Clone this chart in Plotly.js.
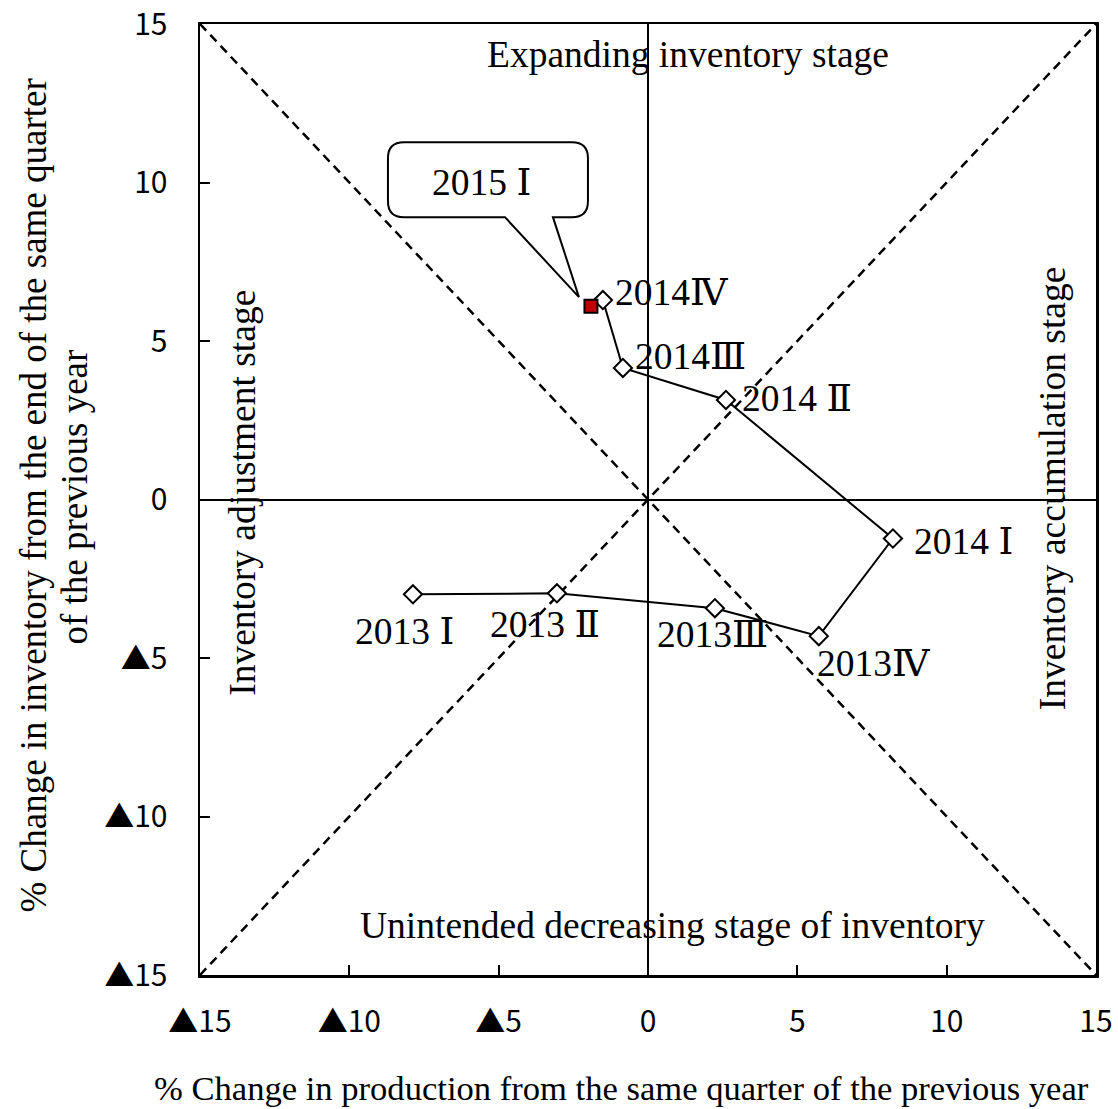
<!DOCTYPE html>
<html>
<head>
<meta charset="utf-8">
<script src="https://cdn.plot.ly/plotly-3.0.1.min.js"></script>
<style>html,body{margin:0;padding:0;background:#fff;}#chart{width:1118px;height:1109px;}</style>
</head>
<body>
<div id="chart"></div>
<script>
// ---- data ----
const quarters   = ["2013 Ⅰ", "2013 Ⅱ", "2013Ⅲ", "2013Ⅳ", "2014 Ⅰ", "2014 Ⅱ", "2014Ⅲ", "2014Ⅳ"];
const production = [-7.87, -3.05, 2.24, 5.72, 8.20, 2.61, -0.84, -1.51];
const inventory  = [-2.99, -2.96, -3.43, -4.31, -1.23, 3.14, 4.15, 6.29];

const latestLabel = "2015 Ⅰ";
const latestProduction = [-1.91];
const latestInventory  = [6.10];

const tickVals = [-15, -10, -5, 0, 5, 10, 15];
const tickText = ["▲15", "▲10", "▲5", "0", "5", "10", "15"];

const stageTop    = "Expanding inventory stage";
const stageBottom = "Unintended decreasing stage of inventory";
const stageLeft   = "Inventory adjustment stage";
const stageRight  = "Inventory accumulation stage";

const xTitle = "% Change in production from the same quarter of the previous year";
const yTitle1 = "% Change in inventory from the end of the same quarter";
const yTitle2 = "of the previous year";

// ---- label placement (pixels, styling only) ----
const labelAnchor = ["center", "center", "center", "left", "left", "left", "left", "left"];
const labelDX = [-8, -12, -2, -4, 19, 14, 10, 10];
const labelDY = [-37, -31, -26, -27, -3, 1, 11, 8];

const serif = "'Liberation Serif', 'DejaVu Serif', 'Times New Roman', 'Noto Sans CJK JP', serif";
const sans = "'Noto Sans CJK JP', 'Liberation Sans', Arial, sans-serif";
const serifSize = 37.5;

const traces = [
  {
    x: production, y: inventory, type: "scatter", mode: "lines+markers",
    line: {color: "#000", width: 2},
    marker: {symbol: "diamond", size: 14, color: "#fff", line: {color: "#000", width: 2}},
    hoverinfo: "skip", showlegend: false, cliponaxis: false
  },
  {
    x: latestProduction, y: latestInventory, type: "scatter", mode: "markers",
    marker: {symbol: "square", size: 13, color: "#C00000", line: {color: "#000", width: 2}},
    hoverinfo: "skip", showlegend: false
  }
];

const annotations = quarters.map((q, i) => ({
  x: production[i], y: inventory[i], xref: "x", yref: "y",
  text: q, showarrow: false, xanchor: labelAnchor[i], yanchor: "middle",
  xshift: labelDX[i], yshift: labelDY[i],
  font: {family: serif, size: serifSize, color: "#000"}
}));

// callout text
annotations.push({
  x: latestProduction[0], y: latestInventory[0], xref: "x", yref: "y",
  text: latestLabel, showarrow: false, xanchor: "center", yanchor: "middle",
  xshift: -109, yshift: 124,
  font: {family: serif, size: serifSize, color: "#000"}
});

// stage labels
annotations.push({x: 0.5446, y: 0.9675, xref: "paper", yref: "paper", text: stageTop,
  showarrow: false, xanchor: "center", yanchor: "middle", font: {family: serif, size: serifSize, color: "#000"}});
annotations.push({x: 0.527, y: 0.0524, xref: "paper", yref: "paper", text: stageBottom,
  showarrow: false, xanchor: "center", yanchor: "middle", font: {family: serif, size: serifSize, color: "#000"}});
annotations.push({x: 0.048, y: 0.507, xref: "paper", yref: "paper", text: stageLeft, textangle: -90,
  showarrow: false, xanchor: "center", yanchor: "middle", font: {family: serif, size: serifSize, color: "#000"}});
annotations.push({x: 0.951, y: 0.512, xref: "paper", yref: "paper", text: stageRight, textangle: -90,
  showarrow: false, xanchor: "center", yanchor: "middle", font: {family: serif, size: serifSize, color: "#000"}});

// axis titles
annotations.push({x: 0.5, y: 0, xref: "paper", yref: "paper", text: xTitle, showarrow: false,
  xanchor: "center", yanchor: "middle", xshift: -27, yshift: -113,
  font: {family: serif, size: 34.6, color: "#000"}});
annotations.push({x: 0, y: 0.5, xref: "paper", yref: "paper", text: yTitle1, showarrow: false, textangle: -90,
  xanchor: "center", yanchor: "middle", xshift: -167, yshift: 4,
  font: {family: serif, size: 37, color: "#000"}});
annotations.push({x: 0, y: 0.5, xref: "paper", yref: "paper", text: yTitle2, showarrow: false, textangle: -90,
  xanchor: "center", yanchor: "middle", xshift: -126, yshift: 2,
  font: {family: serif, size: 37, color: "#000"}});

// callout bubble path (pixels relative to the 2015 point, y up)
const r = 16;
const L = -203, R = -3, T = 164, B = 89;
const calloutPath = [
  `M${L + r},${T}`, `L${R - r},${T}`, `Q${R},${T} ${R},${T - r}`,
  `L${R},${B + r}`, `Q${R},${B} ${R - r},${B}`,
  `L-38,${B}`, `L-12,9`, `L-86,${B}`,
  `L${L + r},${B}`, `Q${L},${B} ${L},${B + r}`,
  `L${L},${T - r}`, `Q${L},${T} ${L + r},${T}`, "Z"
].join(" ");

const shapes = [
  {type: "line", xref: "x", yref: "y", x0: -15, y0: 15, x1: 15, y1: -15, layer: "below",
   line: {color: "#000", width: 2.5, dash: "9px,6px"}},
  {type: "line", xref: "x", yref: "y", x0: -15, y0: -15, x1: 15, y1: 15, layer: "below",
   line: {color: "#000", width: 2.5, dash: "9px,6px"}},
  {type: "path", xref: "x", yref: "y", xsizemode: "pixel", ysizemode: "pixel",
   xanchor: latestProduction[0], yanchor: latestInventory[0], path: calloutPath,
   fillcolor: "#fff", line: {color: "#000", width: 2}, layer: "below"}
];

const axisCommon = {
  range: [-15, 15], tickvals: tickVals, ticktext: tickText,
  ticks: "inside", ticklen: 10, tickwidth: 2, tickcolor: "#000",
  showline: true, linecolor: "#000", linewidth: 2.5, mirror: true,
  showgrid: false, zeroline: true, zerolinecolor: "#000", zerolinewidth: 2,
  tickfont: {family: sans, size: 30, color: "#000"},
  ticklabeloverflow: "allow", fixedrange: true
};

const layout = {
  width: 1118, height: 1109,
  margin: {l: 200, r: 22, t: 24, b: 134},
  paper_bgcolor: "#fff", plot_bgcolor: "#fff",
  xaxis: Object.assign({}, axisCommon, {ticklabelstandoff: 18}),
  yaxis: Object.assign({}, axisCommon, {ticklabelstandoff: 24}),
  shapes: shapes, annotations: annotations, showlegend: false
};

Plotly.newPlot("chart", traces, layout, {displayModeBar: false, staticPlot: true});
</script>
</body>
</html>
